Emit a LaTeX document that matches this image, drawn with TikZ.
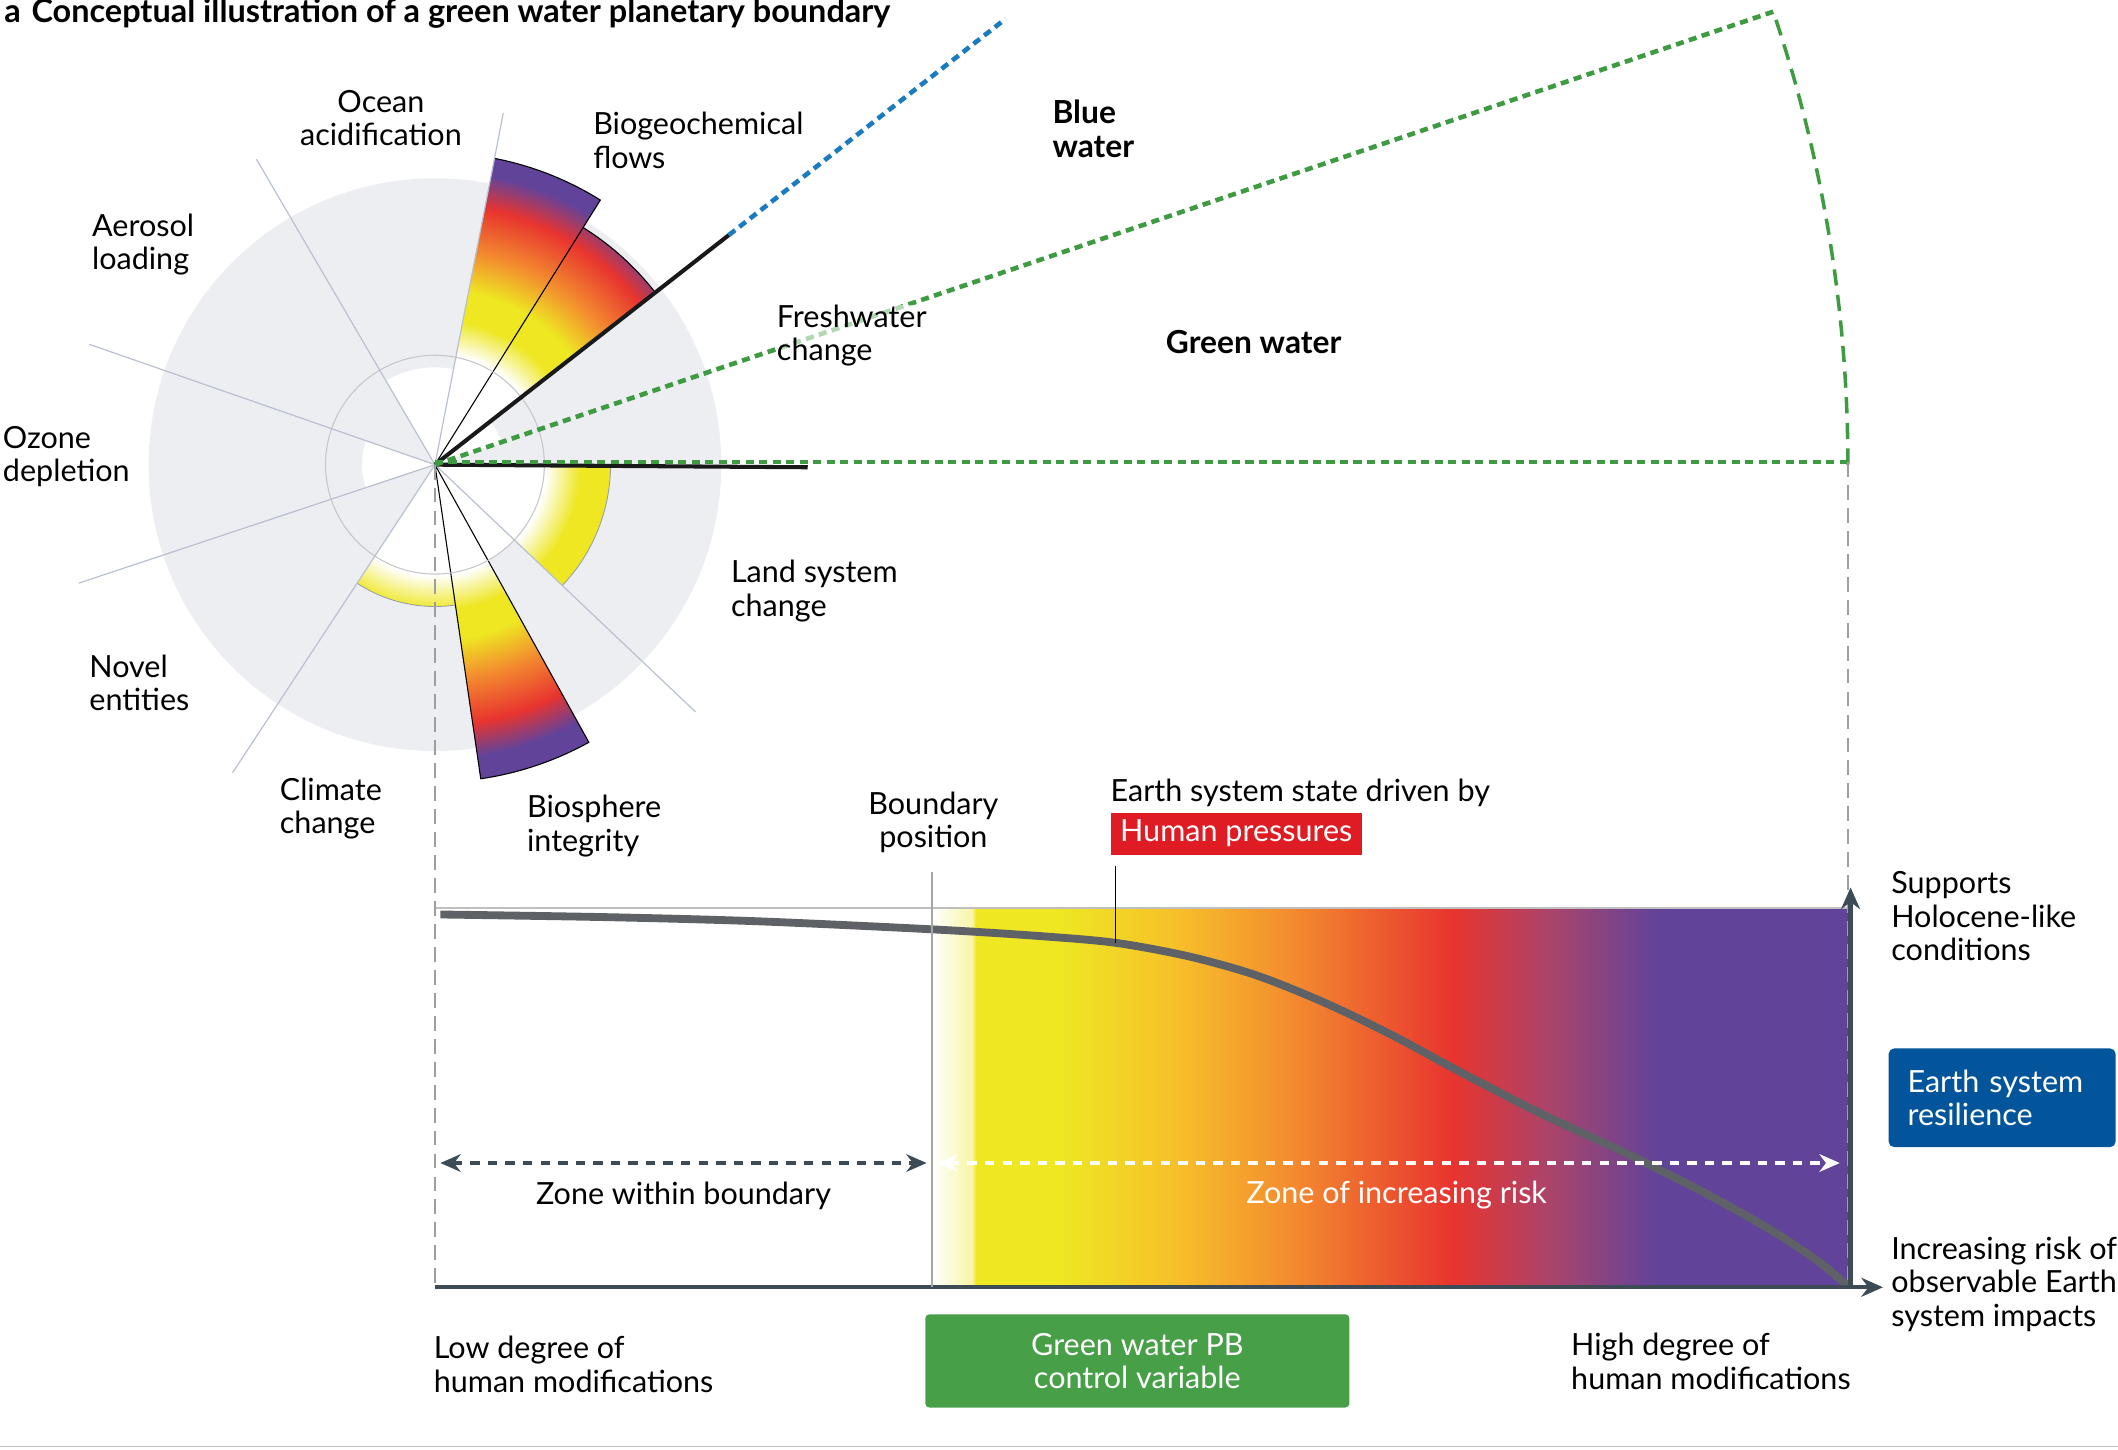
\documentclass[tikz,border=0pt]{standalone}
\usepackage{fontspec}
\setmainfont{Lato}
\usetikzlibrary{arrows.meta,positioning}

\definecolor{diskgrey}{HTML}{EDEEF2}
\definecolor{spokegrey}{HTML}{B9C1D1}
\definecolor{pbyellow}{HTML}{EEE722}
\definecolor{pbgold}{HTML}{F7C02A}
\definecolor{pborange}{HTML}{F3892F}
\definecolor{pbred}{HTML}{E8342F}
\definecolor{pbmauve}{HTML}{A8446C}
\definecolor{pbpurple}{HTML}{62439A}
\definecolor{bluewater}{HTML}{1B7BC0}
\definecolor{greenwater}{HTML}{3F9B42}
\definecolor{axisslate}{HTML}{3C4B56}
\definecolor{curvegrey}{HTML}{5E6266}
\definecolor{hpred}{HTML}{DF1B24}
\definecolor{esblue}{HTML}{02559A}
\definecolor{pbgreen}{HTML}{479F47}
\colorlet{paleyellow}{pbyellow!40}

% colour ramp of the rose: the shaded circle of radius 250 spans 0--25bp
\pgfdeclareradialshading{roseramp}{\pgfpoint{0bp}{0bp}}{%
  color(0bp)=(white); color(8.2bp)=(white); color(10.8bp)=(pbyellow);
  color(13bp)=(pbyellow); color(16bp)=(pborange); color(19.3bp)=(pbred);
  color(21.8bp)=(pbpurple); color(50bp)=(pbpurple)}

% colour ramp of the risk zone: the rectangle spans 25--75bp
\pgfdeclarehorizontalshading{riskramp}{100bp}{%
  color(0bp)=(white); color(25bp)=(white); color(27.2bp)=(paleyellow);
  color(27.4bp)=(pbyellow); color(32bp)=(pbyellow); color(38.3bp)=(pbgold);
  color(44.9bp)=(pborange); color(53.4bp)=(pbred); color(58.9bp)=(pbmauve);
  color(64.6bp)=(pbpurple); color(100bp)=(pbpurple)}

\begin{document}
\begin{tikzpicture}[x=1pt, y=1pt,
    font=\fontsize{22.6}{24.8}\selectfont,
    pblabel/.style={align=left, anchor=west, inner sep=0pt},
    heading/.style={pblabel, font=\fontsize{23.5}{25}\selectfont\bfseries},
    spoke/.style={spokegrey, line width=0.9pt},
    ring/.style={spokegrey!80!black, line width=0.6pt},
    wedgeline/.style={black, line width=0.8pt},
    boundline/.style={black!90, line width=3pt},
    bluedots/.style={bluewater, line width=3.4pt, dash pattern=on 6pt off 4pt},
    greendots/.style={greenwater, line width=3.4pt, dash pattern=on 6pt off 4pt},
    greenarc/.style={greenwater, line width=2.6pt, dash pattern=on 12pt off 7pt},
    guide/.style={black!38, line width=1.4pt, dash pattern=on 11pt off 6pt},
    axisline/.style={axisslate, line width=3.2pt, -{Stealth[length=16pt, width=14pt]}},
    zone/.style={line width=3pt, dash pattern=on 7pt off 6pt, >={Stealth[length=15pt, width=13pt]}, <->},
    tag/.style={text=white, inner sep=0pt, align=center}
  ]
  \useasboundingbox (0,0) rectangle (1568,-1073);
  \coordinate (c) at (322,-344);

  % rose of the nine boundaries
  \fill[diskgrey] (c) circle (212);
  \fill[white] (c) -- ++(79:72) arc[start angle=79, end angle=120.3, radius=72] -- cycle;
  \fill[white] (c) -- ++(160.8:54) arc[start angle=160.8, end angle=198.4, radius=54] -- cycle;
  \fill[white] (c) -- ++(18.7:52) arc[start angle=18.7, end angle=38, radius=52] -- cycle;
  \fill[white] (c) -- ++(-123.3:81) arc[start angle=-123.3, end angle=0, radius=81] -- cycle;
  \begin{scope}
    \clip (c) -- ++(58:231) arc[start angle=58, end angle=79, radius=231] -- cycle
          (c) -- ++(38:207) arc[start angle=38, end angle=58, radius=207] -- cycle
          (c) -- ++(-81.7:235) arc[start angle=-81.7, end angle=-61, radius=235] -- cycle
          (c) -- ++(-123.3:105) arc[start angle=-123.3, end angle=-81.7, radius=105] -- cycle
          (c) -- ++(-43.5:130) arc[start angle=-43.5, end angle=0, radius=130] -- cycle;
    \shade[shading=roseramp] (c) circle (250);
  \end{scope}
  \draw[ring] (c) ++(-123.3:105) arc[start angle=-123.3, end angle=-81.7, radius=105];
  \draw[ring] (c) ++(-43.5:130) arc[start angle=-43.5, end angle=0, radius=130];
  \draw[wedgeline] (c) -- ++(58:231) arc[start angle=58, end angle=79, radius=231];
  \draw[wedgeline] (c) ++(38:207) arc[start angle=38, end angle=58, radius=207];
  \draw[wedgeline] (c) -- ++(-81.7:235) arc[start angle=-81.7, end angle=-61, radius=235] -- (c);
  \draw[black!22, line width=0.8pt] (c) circle (81);
  \foreach \a/\r in {79/265, 120.3/262, 160.8/271, 198.4/278, 236.7/273, 316.5/266}
    \draw[spoke] (c) -- ++(\a:\r);

  % freshwater split into blue and green water
  \draw[boundline] (c) -- ++(38:276);
  \draw[boundline] (c) -- ++(-0.4:276);
  \draw[bluedots] (c) ++(38:276) -- ++(38:260);
  \draw[greendots] (c) -- ++(18.7:1046);
  \draw[greendots] ([yshift=2pt]c) -- ++(0:1046);
  \draw[greenarc] (c) ++(0:1046) arc[start angle=0, end angle=18.7, radius=1046];

  % risk zone
  \coordinate (origin) at (322,-953);
  \coordinate (corner) at (1368,-953);
  \coordinate (bound) at (690,-953);
  \shade[shading=riskramp] (690,-672) rectangle (1368,-953);
  \draw[black!25, line width=1.5pt] (322,-672) -- (1368,-672);
  \draw[guide] (c) -- (origin);
  \draw[guide] (c -| corner) ++(0,2) -- (corner);
  \draw[curvegrey, line width=5.8pt] plot[smooth] coordinates {(326,-677) (450,-679)
    (560,-682) (690,-688) (770,-693) (826,-698) (880,-708) (930,-722) (980,-742)
    (1030,-766) (1080,-793) (1140,-824) (1200,-852) (1260,-882) (1310,-910)
    (1345,-933) (1368,-952)};
  \coordinate (state) at (826,-698);
  \draw[zone, axisslate] (326,-861) -- (686,-861);
  \draw[zone, white] (694,-861) -- (1362,-861);
  \draw[axisline] (origin) -- (1394,-953);
  \draw[axisline] (1370,-953) -- (1370,-657);

  % labels
  \node[anchor=base west, inner sep=0pt, font=\fontsize{24}{26}\selectfont\bfseries] (title)
    at (3,-17) {a\hspace{8pt}Conceptual illustration of a green water planetary boundary};
  \node[pblabel, anchor=center, align=center] (ocean) at (282,-87.5) {Ocean\\acidification};
  \node[pblabel] (biogeo) at (439,-104) {Biogeochemical\\flows};
  \node[pblabel] (aerosol) at (68,-181) {Aerosol\\loading};
  \node[pblabel] (ozone) at (2,-338) {Ozone\\depletion};
  \node[pblabel] (novel) at (66,-505.5) {Novel\\entities};
  \node[pblabel] (climate) at (207,-598.5) {Climate\\change};
  \node[pblabel] (biosphere) at (390,-611.5) {Biosphere\\integrity};
  \node[pblabel] (land) at (541,-437.5) {Land system\\change};
  \node[pblabel, fill=white, fill opacity=0.6, text opacity=1] (fresh) at (575,-248.5) {Freshwater\\change};
  \node[heading] (blue) at (779,-95.5) {Blue\\water};
  \node[heading] (green) at (863,-253) {Green water};

  \node[pblabel, anchor=center, align=center] (bpos) at (691,-609) {Boundary\\position};
  \node[pblabel] (driver) at (822,-587) {Earth system state driven by};
  \node[tag, fill=hpred, minimum width=186pt, minimum height=31pt,
    below right=4pt and 0pt of driver.south west] (hp) {Human pressures};
  \draw[black!35, line width=1pt] (bound |- bpos.south) ++(0,-14) -- (bound);
  \draw[black, line width=0.8pt] (state |- hp.south) ++(0,-8) -- (state);
  \node[pblabel, anchor=center] (within) at (506,-885) {Zone within boundary};
  \node[pblabel, anchor=center, text=white] (risk) at (1034,-885) {Zone of increasing risk};
  \node[pblabel] (low) at (321,-1010) {Low degree of\\human modifications};
  \node[pblabel] (high) at (1163,-1008) {High degree of\\human modifications};
  \node[tag, fill=pbgreen, rounded corners=3pt, minimum width=314pt, minimum height=69pt]
    (cv) at (842,-1007.5) {Green water PB\\control variable};
  \node[pblabel] (holocene) at (1400,-678.5) {Supports\\Holocene-like\\conditions};
  \node[tag, fill=esblue, rounded corners=4pt, align=left, anchor=north west,
    minimum width=168pt, minimum height=73pt, text width=140pt] (resil) at (1398,-776)
    {Earth system\\resilience};
  \node[pblabel] (impacts) at (1400,-950.5) {Increasing risk of\\observable Earth\\system impacts};
  \draw[black!25, line width=1pt] (0,-1071) -- (1568,-1071);
\end{tikzpicture}
\end{document}
